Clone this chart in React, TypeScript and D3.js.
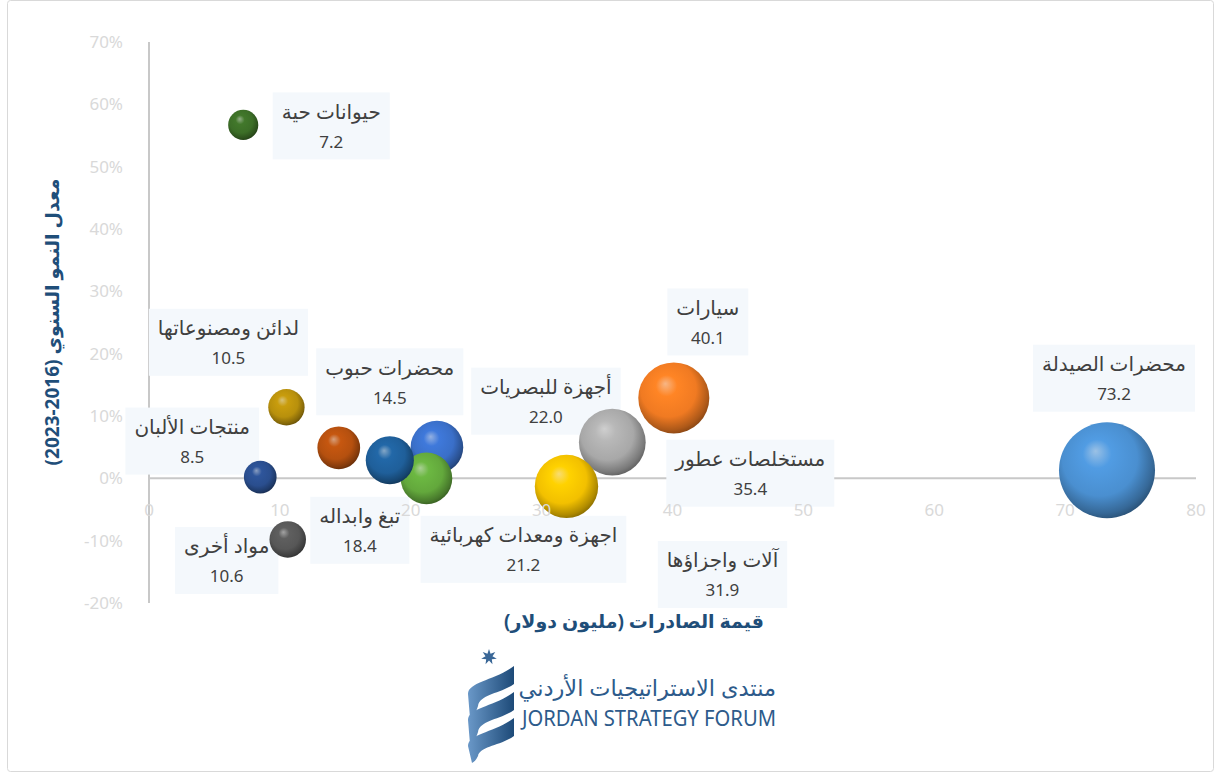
import React, { useEffect, useRef } from "react";
import * as d3 from "d3";

const names = [
  "محضرات الصيدلة",
  "سيارات",
  "مستخلصات عطور",
  "آلات واجزاؤها",
  "أجهزة للبصريات",
  "اجهزة ومعدات كهربائية",
  "تبغ وابداله",
  "محضرات حبوب",
  "مواد أخرى",
  "لدائن ومصنوعاتها",
  "منتجات الألبان",
  "حيوانات حية",
];
const exportsValue = [73.2, 40.1, 35.4, 31.9, 22.0, 21.2, 18.4, 14.5, 10.6, 10.5, 8.5, 7.2];
const growthRate = [0.013, 0.129, 0.058, -0.013, 0.05, 0.0, 0.029, 0.049, -0.098, 0.114, 0.002, 0.567];
const bubbleColors = [
  "#4a8fd0", "#f07a22", "#a8a8a8", "#f2c000", "#3a6fc8", "#63a83c",
  "#1f5f9a", "#b5500f", "#575757", "#b8900c", "#2a4e8e", "#3c6e27",
];
// label box offset from bubble centre (layout only)
const labelOffsets: [number, number][] = [
  [7, -92], [34, -76], [138, 31], [156, 88], [109, -46], [97, 71],
  [-30, 70], [51, -66], [-61, 21], [-58, -65], [-68, -36], [88, 1],
];
const xTicks = [0, 10, 20, 30, 40, 50, 60, 70, 80];
const yTicks = [-0.2, -0.1, 0, 0.1, 0.2, 0.3, 0.4, 0.5, 0.6, 0.7];
const xTitle = "قيمة الصادرات (مليون دولار)";
const yTitle = "معدل النمو السنوي (2016-2023)";

const W = 1221, H = 774;
const FONT = "'Noto Sans', 'Open Sans', 'DejaVu Sans', sans-serif";

export default function App() {
  const ref = useRef<SVGSVGElement>(null);
  useEffect(() => {
    const svg = d3.select(ref.current);
    svg.selectAll("*").remove();
    const x = d3.scaleLinear().domain([0, 80]).range([149, 1196]);
    const y = d3.scaleLinear().domain([-0.2, 0.7]).range([603, 42]);
    const r = d3.scaleSqrt().domain([0, 73.2]).range([0, 48]);

    svg.append("rect").attr("x", 7.5).attr("y", 0.5).attr("width", 1206).attr("height", 771)
      .attr("rx", 3).attr("fill", "#fff").attr("stroke", "#d9d9d9").attr("stroke-width", 1);

    const defs = svg.append("defs");
    bubbleColors.forEach((c, i) => {
      const base = d3.color(c)!;
      const g = defs.append("radialGradient").attr("id", "bg" + i)
        .attr("cx", "0.45").attr("cy", "0.42").attr("r", "0.6")
        .attr("fx", "0.38").attr("fy", "0.3");
      g.append("stop").attr("offset", "0").attr("stop-color", d3.interpolateRgb(c, "#ffffff")(0.45));
      g.append("stop").attr("offset", "0.25").attr("stop-color", base.brighter(0.25).formatHex());
      g.append("stop").attr("offset", "0.65").attr("stop-color", c);
      g.append("stop").attr("offset", "0.9").attr("stop-color", base.darker(0.9).formatHex());
      g.append("stop").attr("offset", "1").attr("stop-color", base.darker(1.6).formatHex());
    });
    const lg = defs.append("linearGradient").attr("id", "logoG").attr("x1", "0").attr("x2", "1").attr("y1", "0").attr("y2", "0");
    lg.append("stop").attr("offset", "0").attr("stop-color", "#6a98c8");
    lg.append("stop").attr("offset", "1").attr("stop-color", "#1d4a78");

    // axes
    svg.append("line").attr("x1", x(0)).attr("x2", x(0)).attr("y1", y(0.7)).attr("y2", y(-0.2))
      .attr("stroke", "#c8c8c8").attr("stroke-width", 2);
    svg.append("line").attr("x1", x(0)).attr("x2", x(80)).attr("y1", y(0)).attr("y2", y(0))
      .attr("stroke", "#c8c8c8").attr("stroke-width", 2);

    // y tick labels
    svg.append("g").selectAll("text").data(yTicks).join("text")
      .attr("x", 123).attr("y", (d) => y(d)).attr("dy", "0.35em").attr("text-anchor", "end")
      .attr("font-family", FONT).attr("font-size", 17).attr("fill", "#d9d9d9")
      .text((d) => `${Math.round(d * 100)}%`);

    const idx = d3.range(names.length);

    // data labels (beneath bubbles)
    const lab = svg.append("g");
    idx.forEach((i) => {
      const bx = x(exportsValue[i]) + labelOffsets[i][0];
      const by = y(growthRate[i]) + labelOffsets[i][1];
      const g = lab.append("g");
      const rect = g.append("rect").attr("fill", "#f4f8fc");
      const t1 = g.append("text").attr("x", bx).attr("y", by - 14).attr("dy", "0.35em")
        .attr("text-anchor", "middle").attr("font-family", FONT).attr("font-size", 20)
        .attr("fill", "#404040").text(names[i]);
      const t2 = g.append("text").attr("x", bx).attr("y", by + 16).attr("dy", "0.35em")
        .attr("text-anchor", "middle").attr("font-family", FONT).attr("font-size", 17)
        .attr("fill", "#404040").text(d3.format(".1f")(exportsValue[i]));
      const w = Math.max((t1.node() as SVGTextElement).getComputedTextLength(),
        (t2.node() as SVGTextElement).getComputedTextLength()) + 18;
      rect.attr("x", bx - w / 2).attr("y", by - 33.5).attr("width", w).attr("height", 67);
    });

    // bubbles
    svg.append("g").selectAll("circle").data(idx).join("circle")
      .attr("cx", (i) => x(exportsValue[i])).attr("cy", (i) => y(growthRate[i]))
      .attr("r", (i) => r(exportsValue[i])).attr("fill", (i) => `url(#bg${i})`);

    // x tick labels
    svg.append("g").selectAll("text").data(xTicks).join("text")
      .attr("x", (d) => x(d)).attr("y", 510).attr("dy", "0.35em").attr("text-anchor", "middle")
      .attr("font-family", FONT).attr("font-size", 17).attr("fill", "#d9d9d9")
      .text((d) => d);

    // axis titles
    svg.append("text").attr("x", 634).attr("y", 621).attr("dy", "0.35em").attr("text-anchor", "middle")
      .attr("font-family", FONT).attr("font-size", 19).attr("font-weight", "bold").attr("fill", "#1f4e79")
      .text(xTitle);
    svg.append("text").attr("transform", "translate(52,322) rotate(-90)").attr("dy", "0.35em")
      .attr("text-anchor", "middle").attr("font-family", FONT).attr("font-size", 19)
      .attr("font-weight", "bold").attr("fill", "#1f4e79").text(yTitle);

    // logo
    const logo = svg.append("g");
    const starPts: [number, number][] = d3.range(14).map((k) => [
      (Math.PI * k) / 7, k % 2 === 0 ? 8 : 3.6,
    ]);
    const star = d3.lineRadial().curve(d3.curveLinearClosed)(starPts);
    logo.append("path").attr("d", star).attr("transform", "translate(489,657)").attr("fill", "#3a6797");
    const bands = [
      "M468,694 C468,682 496,680 514,666 L514,684 C500,694 480,694 478,706 C476,712 474,716 470,718 Z",
      "M468,720 C468,708 496,706 514,692 L514,710 C500,720 480,720 478,732 C476,738 474,742 470,744 Z",
      "M468,746 C468,734 496,732 514,718 L514,736 C500,746 480,746 478,756 C476,760 474,762 472,763 Z",
    ];
    bands.forEach((d) => logo.append("path").attr("d", d).attr("fill", "url(#logoG)"));
    logo.append("text").attr("x", 776).attr("y", 688).attr("dy", "0.35em").attr("text-anchor", "end")
      .attr("font-family", FONT).attr("font-size", 22.5).attr("fill", "#2d5b8b").text("منتدى الاستراتيجيات الأردني");
    logo.append("text").attr("x", 522).attr("y", 718).attr("dy", "0.35em").attr("text-anchor", "start")
      .attr("font-family", FONT).attr("font-size", 22).attr("fill", "#2d5b8b")
      .attr("textLength", 254).attr("lengthAdjust", "spacingAndGlyphs").text("JORDAN STRATEGY FORUM");
  }, []);
  return (
    <svg ref={ref} width={W} height={H}
      style={{ position: "absolute", left: 0, top: 0, background: "#fff" }} />
  );
}
